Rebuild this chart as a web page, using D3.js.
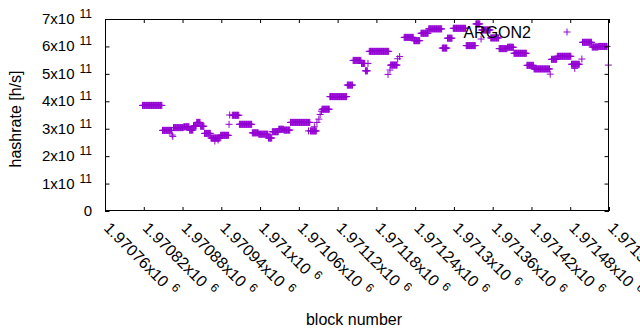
<!DOCTYPE html>
<html>
<head>
<meta charset="utf-8">
<script src="https://cdn.jsdelivr.net/npm/d3@7"></script>
<style>
  body { margin: 0; background: #fff; }
  svg { display: block; }
</style>
</head>
<body>
<div id="chart"></div>
<script>
// Hashrate per block, read off the plot as runs of equal value
// (each run covers every block from start to end)
const runStart = [
    1970818, 1970849, 1970864, 1970865, 1970866, 1970882, 1970891, 1970897, 1970902, 1970908,
    1970914, 1970924, 1970930, 1970935, 1970939, 1970952, 1970953, 1970957, 1970968, 1970988,
    1970998, 1971013, 1971019, 1971029, 1971037, 1971047, 1971075, 1971078, 1971084, 1971088,
    1971091, 1971093, 1971095, 1971096, 1971108, 1971135, 1971144, 1971157, 1971163, 1971167,
    1971169, 1971198, 1971201, 1971202, 1971213, 1971216, 1971223, 1971238, 1971249, 1971261,
    1971282, 1971290, 1971299, 1971319, 1971334, 1971342, 1971343, 1971357, 1971370, 1971383,
    1971393, 1971413, 1971424, 1971449, 1971451, 1971460, 1971482, 1971487, 1971498, 1971499,
    1971514, 1971524, 1971539
];
const runEnd = [
    1970848, 1970863, 1970864, 1970865, 1970881, 1970890, 1970896, 1970901, 1970907, 1970913,
    1970923, 1970938, 1970930, 1970935, 1970951, 1970952, 1970953, 1970967, 1970987, 1970997,
    1971012, 1971018, 1971028, 1971036, 1971046, 1971077, 1971075, 1971087, 1971084, 1971088,
    1971091, 1971093, 1971095, 1971107, 1971134, 1971143, 1971156, 1971162, 1971166, 1971167,
    1971199, 1971198, 1971201, 1971212, 1971213, 1971216, 1971237, 1971247, 1971260, 1971281,
    1971289, 1971297, 1971318, 1971333, 1971340, 1971342, 1971356, 1971369, 1971382, 1971392,
    1971412, 1971423, 1971448, 1971449, 1971459, 1971481, 1971494, 1971487, 1971498, 1971513,
    1971523, 1971537, 1971539
];
// values in units of 1e11 h/s
const runValue = [
    3.85, 2.94, 2.77, 2.72, 3.04, 3.07, 2.95, 3.10, 3.23, 3.09,
    2.83, 2.66, 2.55, 2.59, 2.76, 3.16, 3.50, 3.49, 3.16, 2.85,
    2.80, 2.66, 2.89, 2.98, 2.95, 3.23, 2.92, 2.92, 3.07, 3.23,
    3.35, 3.52, 3.64, 3.71, 4.17, 4.59, 5.49, 5.38, 5.11, 5.38,
    5.82, 4.98, 5.14, 5.32, 5.55, 5.63, 6.33, 6.21, 6.48, 6.64,
    5.94, 6.30, 6.66, 6.03, 6.82, 6.27, 6.60, 6.31, 5.92, 5.97,
    5.75, 5.31, 5.18, 4.99, 5.53, 5.64, 5.35, 5.20, 5.54, 6.15,
    5.98, 6.00, 5.32
];

const xTicks = [1970760, 1970820, 1970880, 1970940, 1971000, 1971060, 1971120,
                1971180, 1971240, 1971300, 1971360, 1971420, 1971480, 1971540];
const yTicks = [0, 1, 2, 3, 4, 5, 6, 7];
const seriesName = 'ARGON2';

function drawChart() {
    const width = 640;
    const height = 330;
    const margin = { left: 105, right: 31, top: 19, bottom: 119 };
    const color = '#9400d3';
    const font = '"Liberation Sans", Arial, sans-serif';

    const svg = d3.select('#chart')
        .append('svg')
        .attr('width', width)
        .attr('height', height)
        .attr('font-family', font);

    const x = d3.scaleLinear()
        .domain([1970760, 1971540])
        .range([margin.left, width - margin.right]);
    const y = d3.scaleLinear()
        .domain([0, 7])
        .range([height - margin.bottom, margin.top]);

    // Expand the runs into one point per block
    const points = [];
    runStart.forEach((s, i) => {
        for (let b = s; b <= runEnd[i]; b++) {
            points.push({ block: b, value: runValue[i] });
        }
    });

    const plus = 'M-3.5,0H3.5M0,-3.5V3.5';

    // Points
    svg.append('g')
        .selectAll('path')
        .data(points)
        .enter()
        .append('path')
        .attr('transform', d => `translate(${x(d.block)},${y(d.value)})`)
        .attr('d', plus)
        .attr('fill', 'none')
        .attr('stroke', color)
        .attr('stroke-width', 1);

    // Axes (ticks inward, mirrored on top and right)
    const bottom = svg.append('g')
        .attr('transform', `translate(0,${height - margin.bottom})`)
        .call(d3.axisBottom(x).tickValues(xTicks).tickSize(-4).tickFormat(''));
    const top = svg.append('g')
        .attr('transform', `translate(0,${margin.top})`)
        .call(d3.axisTop(x).tickValues(xTicks).tickSize(-4).tickFormat(''));
    const left = svg.append('g')
        .attr('transform', `translate(${margin.left},0)`)
        .call(d3.axisLeft(y).tickValues(yTicks).tickSize(-4.5).tickFormat(''));
    const right = svg.append('g')
        .attr('transform', `translate(${width - margin.right},0)`)
        .call(d3.axisRight(y).tickValues(yTicks).tickSize(-4.5).tickFormat(''));
    [bottom, top, left, right].forEach(g => {
        g.select('.domain').remove();
        g.selectAll('line').attr('stroke', '#000');
    });

    // Border
    svg.append('rect')
        .attr('x', margin.left + 0.5)
        .attr('y', margin.top + 0.5)
        .attr('width', width - margin.left - margin.right - 1)
        .attr('height', height - margin.top - margin.bottom - 1)
        .attr('fill', 'none')
        .attr('stroke', '#000')
        .attr('stroke-width', 1);

    // Y tick labels
    yTicks.forEach(v => {
        const t = svg.append('text')
            .attr('x', 92)
            .attr('y', y(v) + 5)
            .attr('text-anchor', 'end')
            .attr('font-size', 15)
            .attr('fill', '#000');
        if (v === 0) {
            t.text('0');
        } else {
            t.append('tspan').text(v + 'x10');
            t.append('tspan')
                .attr('dx', 5)
                .attr('dy', -6)
                .attr('font-size', 12)
                .text('11');
        }
    });

    // X tick labels, rotated
    xTicks.forEach(v => {
        const label = String(+(v / 1e6).toFixed(5));
        const t = svg.append('text')
            .attr('transform', `translate(${x(v) - 2},${229}) rotate(45)`)
            .attr('font-size', 16)
            .attr('fill', '#000');
        t.append('tspan').text(label + 'x10');
        t.append('tspan')
            .attr('dx', 6)
            .attr('dy', -6)
            .attr('font-size', 12)
            .text('6');
    });

    // Axis titles
    svg.append('text')
        .attr('transform', `translate(21,119) rotate(-90)`)
        .attr('text-anchor', 'middle')
        .attr('font-size', 16)
        .text('hashrate [h/s]');
    svg.append('text')
        .attr('x', 354)
        .attr('y', 325)
        .attr('text-anchor', 'middle')
        .attr('font-size', 16)
        .text('block number');

    // Key
    svg.append('text')
        .attr('x', 531)
        .attr('y', 37.5)
        .attr('text-anchor', 'end')
        .attr('font-size', 16)
        .text(seriesName);
    svg.append('path')
        .attr('transform', 'translate(567,32)')
        .attr('d', plus)
        .attr('fill', 'none')
        .attr('stroke', color)
        .attr('stroke-width', 1);
}

drawChart();
</script>
</body>
</html>
